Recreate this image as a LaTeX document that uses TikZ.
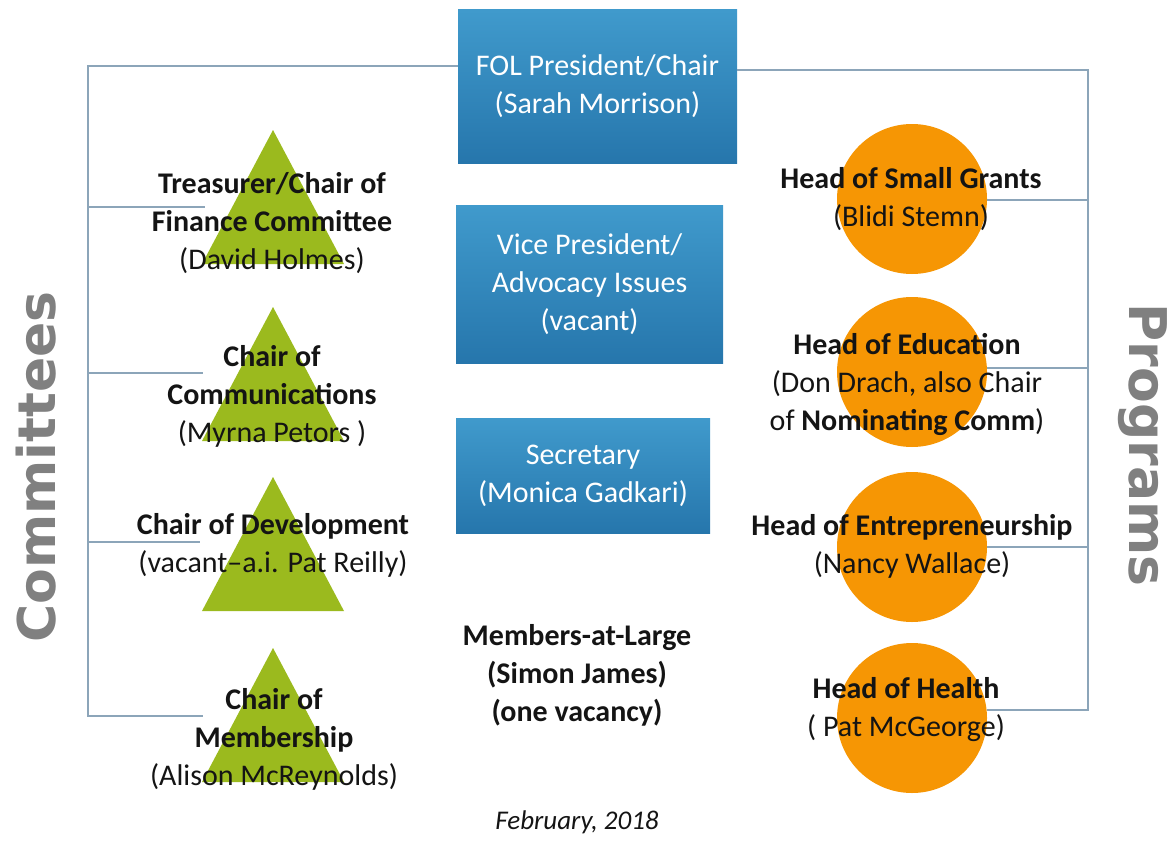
\documentclass[tikz,border=0pt]{standalone}
\usepackage{fontspec}
\setmainfont{Carlito}
\newfontfamily\sidefont{DejaVu Sans}
\usetikzlibrary{calc}
\definecolor{boxtop}{RGB}{64,154,204}
\definecolor{boxbot}{RGB}{38,118,172}
\definecolor{trigreen}{RGB}{155,186,30}
\definecolor{circorange}{RGB}{246,150,4}
\definecolor{linec}{RGB}{140,165,185}
\definecolor{sidegray}{RGB}{128,128,128}
\begin{document}
\begin{tikzpicture}[x=1pt,y=-1pt,
  conn/.style={draw=linec, line width=1.2pt},
  bluebox/.style={rectangle, inner sep=0pt, top color=boxtop, bottom color=boxbot, draw=none,
    text=white, align=center, font=\fontsize{30}{38}\selectfont},
  tri/.style={fill=trigreen},
  circ/.style={circle, fill=circorange, minimum size=150pt, inner sep=0pt},
  txt/.style={align=center, text=black!92, font=\fontsize{30}{38}\selectfont, inner sep=0pt},
  side/.style={text=sidegray, font=\sidefont\bfseries\fontsize{52}{52}\selectfont, inner sep=0pt}]
\useasboundingbox (0,0) rectangle (1174,840);

% blue boxes
\node[bluebox, minimum width=279pt, minimum height=153pt] (fol) at (597.5,86.5)
  {FOL President/Chair\\(Sarah Morrison)};
\node[bluebox, minimum width=267pt, minimum height=158pt] (vp) at (589.5,284)
  {Vice President/\\Advocacy Issues\\(vacant)};
\node[bluebox, minimum width=254pt, minimum height=115pt] (sec) at (583,475.5)
  {Secretary\\(Monica Gadkari)};

% left bracket
\coordinate (ltop) at (88,66);
\coordinate (lbot) at (88,716);
\coordinate (t1l) at (205,207);
\coordinate (t2l) at (203,373);
\coordinate (t3l) at (200,542);
\coordinate (t4l) at (203,716);
\draw[conn] (fol.west |- ltop) -- (ltop) -- (lbot) -- (t4l);
\draw[conn] (ltop |- t1l) -- (t1l);
\draw[conn] (ltop |- t2l) -- (t2l);
\draw[conn] (ltop |- t3l) -- (t3l);

% triangles
\coordinate (t1) at (273,130);
\coordinate (t2) at (273,307);
\coordinate (t3) at (273,477);
\coordinate (t4) at (273,648);
\foreach \t in {t1,t2,t3,t4}
  \fill[tri] (\t) -- ++(-71,134) -- ++(142,0) -- cycle;

% circles
\node[circ] (c1) at (912,199) {};
\node[circ] (c2) at (912,372) {};
\node[circ] (c3) at (912,547) {};
\node[circ] (c4) at (912,718) {};

% right bracket
\coordinate (rtop) at (1088,70);
\coordinate (rbot) at (1088,710);
\draw[conn] (fol.east |- rtop) -- (rtop) -- (rbot) -- (c4.east |- rbot);
\draw[conn] (c1.east |- 0,200) -- (rtop |- 0,200);
\draw[conn] (c2.east |- 0,368) -- (rtop |- 0,368);
\draw[conn] (c3.east |- 0,547) -- (rtop |- 0,547);

% triangle texts
\node[txt] (tx1) at (272,223) {\textbf{Treasurer/Chair of}\\\textbf{Finance Committee}\\(David Holmes)};
\node[txt] (tx2) at (272,396) {\textbf{Chair of}\\\textbf{Communications}\\(Myrna Petors )};
\node[txt] (tx3) at (273,545) {\textbf{Chair of Development}\\(vacant–a.i. Pat Reilly)};
\node[txt] (tx4) at (274,739) {\textbf{Chair of}\\\textbf{Membership}\\(Alison McReynolds)};

% circle texts
\node[txt] (cx1) at (911,199) {\textbf{Head of Small Grants}\\(Blidi Stemn)};
\node[txt] (cx2) at (907,384) {\textbf{Head of Education}\\(Don Drach, also Chair\\of \textbf{Nominating Comm})};
\node[txt] (cx3) at (912,546) {\textbf{Head of Entrepreneurship}\\(Nancy Wallace)};
\node[txt] (cx4) at (906,710) {\textbf{Head of Health}\\( Pat McGeorge)};

% members at large and date
\node[txt] (mal) at (577,675) {\textbf{Members-at-Large}\\\textbf{(Simon James)}\\\textbf{(one vacancy)}};
\node[txt, font=\itshape\fontsize{27}{32}\selectfont] (date) at (577,822) {February, 2018};

% side labels
\node[side, rotate=90] (committees) at (36,467) {Committees};
\node[side, rotate=-90] (programs) at (1143,445) {Programs};
\end{tikzpicture}
\end{document}
